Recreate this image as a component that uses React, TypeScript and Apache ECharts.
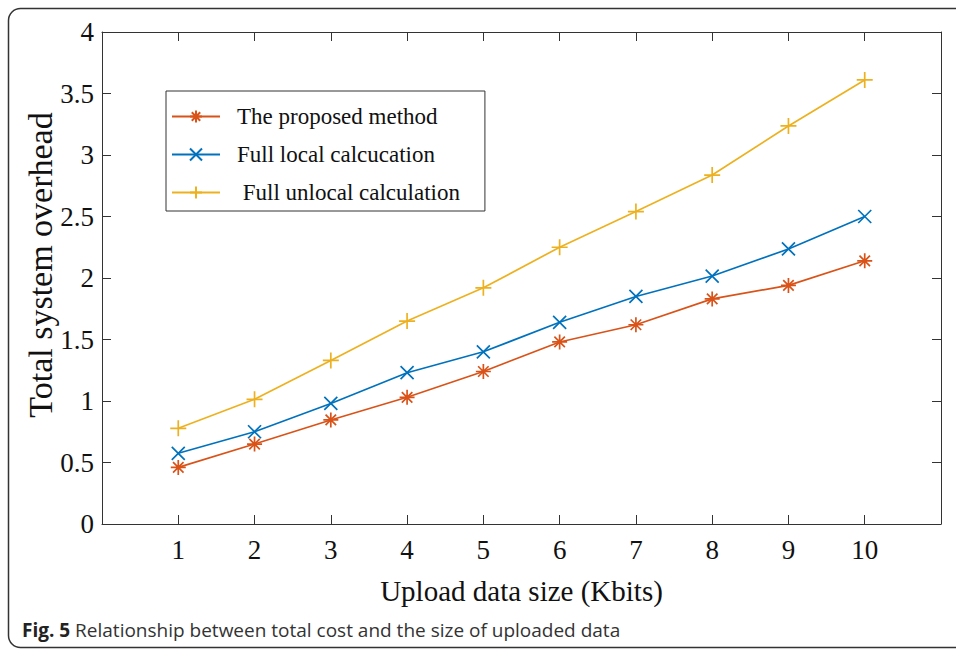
import React, { useEffect, useRef } from "react";
import * as echarts from "echarts";

const xValues = [1, 2, 3, 4, 5, 6, 7, 8, 9, 10];
const proposed = [0.46, 0.65, 0.846, 1.03, 1.24, 1.48, 1.62, 1.83, 1.94, 2.14];
const fullLocal = [0.575, 0.75, 0.98, 1.23, 1.4, 1.64, 1.85, 2.016, 2.236, 2.5];
const fullUnlocal = [0.778, 1.014, 1.33, 1.65, 1.92, 2.25, 2.54, 2.837, 3.236, 3.61];
const seriesNames = ["The proposed method", "Full local calcucation", " Full unlocal calculation"];
const colors = ["#D95319", "#0072BD", "#EDB120"];
const yTitle = "Total system overhead";
const xTitle = "Upload data size (Kbits)";

const STAR = "path://M5,0L5,10M0,5L10,5M1.5,1.5L8.5,8.5M1.5,8.5L8.5,1.5";
const CROSS = "path://M0,0L10,10M0,10L10,0";
const PLUS = "path://M5,0L5,10M0,5L10,5";

export default function App() {
  const ref = useRef<HTMLDivElement>(null);
  useEffect(() => {
    document.body.style.margin = "0";
    const chart = echarts.init(ref.current!, null, { renderer: "svg" });
    const font = "Liberation Serif";
    const axisColor = "#333";
    const pair = (ys: number[]) => xValues.map((x, i) => [x, ys[i]]);
    const mk = (name: string, ys: number[], color: string, symbol: string, size: number) => ({
      name,
      type: "line",
      data: pair(ys),
      symbol,
      symbolSize: size,
      showSymbol: true,
      lineStyle: { color, width: 1.7 },
      itemStyle: { color: "none", borderColor: color, borderWidth: 1.7 },
      emphasis: { disabled: true },
    });
    const tickCommon = {
      show: true,
      inside: true,
      length: 9,
      lineStyle: { color: axisColor, width: 1 },
    };
    const lineCommon = { show: true, onZero: false, lineStyle: { color: axisColor, width: 1 } };
    chart.setOption({
      animation: false,
      grid: { left: 102, top: 32, right: 15, bottom: 127, containLabel: false },
      xAxis: [
        {
          type: "value",
          min: 0,
          max: 11,
          interval: 1,
          position: "bottom",
          name: xTitle,
          nameLocation: "middle",
          nameGap: 52,
          nameTextStyle: { fontFamily: font, fontSize: 29, color: "#111" },
          axisLine: lineCommon,
          axisTick: tickCommon,
          splitLine: { show: false },
          axisLabel: {
            fontFamily: font,
            fontSize: 27,
            color: "#111",
            margin: 12,
            formatter: (v: number) => (v >= 1 && v <= 10 ? String(v) : ""),
          },
        },
        {
          type: "value",
          min: 0,
          max: 11,
          interval: 1,
          position: "top",
          axisLine: lineCommon,
          axisTick: tickCommon,
          splitLine: { show: false },
          axisLabel: { show: false },
        },
      ],
      yAxis: [
        {
          type: "value",
          min: 0,
          max: 4,
          interval: 0.5,
          position: "left",
          axisLine: lineCommon,
          axisTick: tickCommon,
          splitLine: { show: false },
          axisLabel: { fontFamily: font, fontSize: 27, color: "#111", margin: 8 },
        },
        {
          type: "value",
          min: 0,
          max: 4,
          interval: 0.5,
          position: "right",
          axisLine: lineCommon,
          axisTick: tickCommon,
          splitLine: { show: false },
          axisLabel: { show: false },
        },
      ],
      legend: {
        orient: "vertical",
        left: 166,
        top: 91,
        padding: [14, 25, 7, 5],
        itemGap: 15,
        itemWidth: 48,
        itemHeight: 15,
        backgroundColor: "#fff",
        borderColor: "#333",
        borderWidth: 1,
        textStyle: { fontFamily: font, fontSize: 23, color: "#111", padding: [0, 0, 0, 12] },
        data: seriesNames,
        selectedMode: false,
      },
      series: [
        mk(seriesNames[0], proposed, colors[0], STAR, 15),
        mk(seriesNames[1], fullLocal, colors[1], CROSS, 13),
        mk(seriesNames[2], fullUnlocal, colors[2], PLUS, 16),
      ],
      graphic: [
        {
          type: "rect",
          shape: { x: 8.5, y: 8.5, width: 1000, height: 639, r: 12 },
          style: { fill: "none", stroke: "#333", lineWidth: 1.5 },
          silent: true,
        },
        {
          type: "text",
          x: 40,
          y: 265,
          rotation: Math.PI / 2,
          style: {
            text: yTitle,
            fontFamily: font,
            fontSize: 34,
            fill: "#111",
            align: "center",
            verticalAlign: "middle",
          },
        },
        {
          type: "text",
          x: 22,
          y: 630,
          style: {
            text: "{b|Fig. 5} Relationship between total cost and the size of uploaded data",
            fontFamily: "Open Sans",
            fontSize: 19,
            fill: "#333",
            verticalAlign: "middle",
            rich: {
              b: { fontFamily: "Open Sans", fontWeight: "bold", fontSize: 19, fill: "#222" },
            },
          },
        },
      ],
    });
    return () => chart.dispose();
  }, []);
  return <div ref={ref} style={{ width: 956, height: 651 }} />;
}
